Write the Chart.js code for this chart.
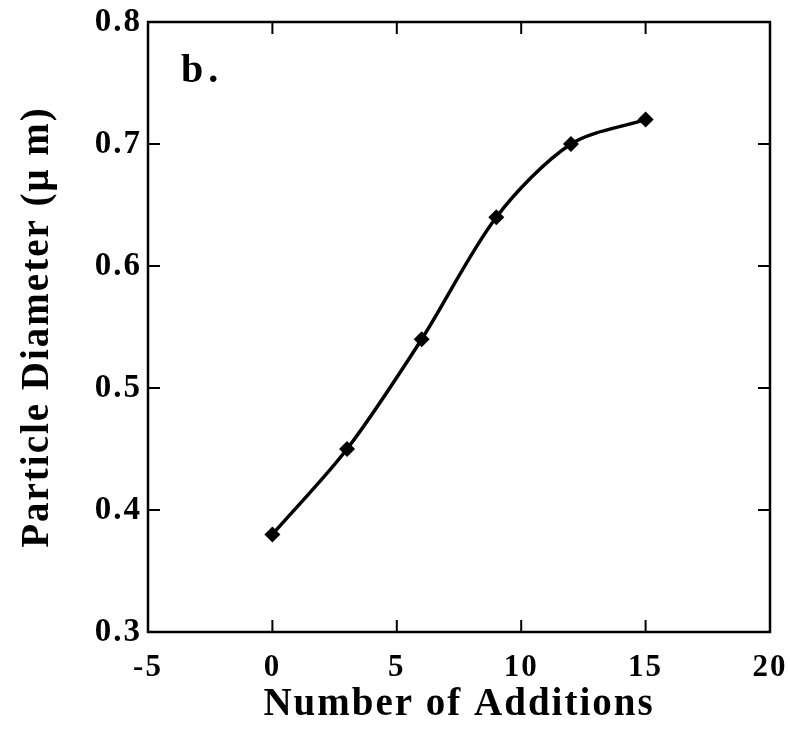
<!DOCTYPE html>
<html>
<head>
<meta charset="utf-8">
<script src="https://cdn.jsdelivr.net/npm/chart.js@4.4.1/dist/chart.umd.min.js"></script>
<style>
  html, body { margin: 0; padding: 0; background: #fff; }
  #wrap { width: 790px; height: 736px; }
</style>
</head>
<body>
<div id="wrap"><canvas id="chart"></canvas></div>
<script>
// data
const additions = [0, 3, 6, 9, 12, 15];
const diameters = [0.38, 0.45, 0.54, 0.64, 0.70, 0.72];
const xTicks = [-5, 0, 5, 10, 15, 20];
const yTicks = [0.3, 0.4, 0.5, 0.6, 0.7, 0.8];
const panelLabel = 'b.';

const SERIF = '"Liberation Serif", "Times New Roman", serif';

// the scanned figure has loose tracking on all its text
const trackingPlugin = {
    id: 'tracking',
    beforeDraw(chart) {
        chart.ctx.letterSpacing = '2px';
    }
};

// frame + inward tick marks on all four sides, plus the panel letter
const framePlugin = {
    id: 'frame',
    afterDraw(chart) {
        const { ctx, chartArea: a, scales } = chart;
        ctx.save();
        ctx.strokeStyle = '#000';
        ctx.lineWidth = 2.5;
        ctx.strokeRect(a.left, a.top, a.right - a.left, a.bottom - a.top);

        const len = 12;
        ctx.lineWidth = 2;
        ctx.beginPath();
        xTicks.forEach(v => {
            const px = scales.x.getPixelForValue(v);
            ctx.moveTo(px, a.bottom); ctx.lineTo(px, a.bottom - len);
            ctx.moveTo(px, a.top); ctx.lineTo(px, a.top + len);
        });
        yTicks.forEach(v => {
            const py = scales.y.getPixelForValue(v);
            ctx.moveTo(a.left, py); ctx.lineTo(a.left + len, py);
            ctx.moveTo(a.right, py); ctx.lineTo(a.right - len, py);
        });
        ctx.stroke();

        ctx.fillStyle = '#000';
        ctx.font = 'bold 40px ' + SERIF;
        ctx.letterSpacing = '5px';
        ctx.textBaseline = 'alphabetic';
        ctx.fillText(panelLabel, a.left + 33, a.top + 60);
        ctx.restore();
    }
};

new Chart(document.getElementById('chart'), {
    type: 'line',
    data: {
        datasets: [{
            data: additions.map((x, i) => ({ x: x, y: diameters[i] })),
            borderColor: '#000',
            backgroundColor: '#000',
            borderWidth: 3.5,
            tension: 0.3,
            pointStyle: 'rectRot',
            pointRadius: 8,
            pointBorderWidth: 0,
            fill: false
        }]
    },
    options: {
        responsive: true,
        maintainAspectRatio: false,
        animation: false,
        events: [],
        layout: { padding: { top: 22, right: 20, left: 0, bottom: 0 } },
        plugins: { legend: { display: false }, tooltip: { enabled: false } },
        scales: {
            x: {
                type: 'linear',
                min: -5, max: 20,
                afterBuildTicks: s => { s.ticks = xTicks.map(v => ({ value: v })); },
                grid: { display: false, drawTicks: false },
                border: { display: false },
                ticks: {
                    color: '#000',
                    padding: 17,
                    font: { family: SERIF, size: 31, weight: 'bold' }
                },
                title: {
                    display: true,
                    text: 'Number of Additions',
                    color: '#000',
                    padding: { top: 0, bottom: 8 },
                    font: { family: SERIF, size: 39, weight: 'bold' }
                },
                afterFit: s => {
                    s.height = 104;
                    s.paddingLeft = 0;
                    s.paddingRight = 0;
                }
            },
            y: {
                min: 0.3, max: 0.8,
                afterBuildTicks: s => { s.ticks = yTicks.map(v => ({ value: v })); },
                grid: { display: false, drawTicks: false },
                border: { display: false },
                ticks: {
                    color: '#000',
                    padding: 6,
                    font: { family: SERIF, size: 33, weight: 'bold' },
                    callback: v => v.toFixed(1)
                },
                title: {
                    display: true,
                    text: 'Particle Diameter (\u03bc m)',
                    color: '#000',
                    padding: { top: 15, bottom: 0 },
                    font: { family: SERIF, size: 39, weight: 'bold' }
                },
                afterFit: s => {
                    s.width = 148;
                    s.paddingTop = 0;
                    s.paddingBottom = 0;
                }
            }
        }
    },
    plugins: [trackingPlugin, framePlugin]
});
</script>
</body>
</html>
